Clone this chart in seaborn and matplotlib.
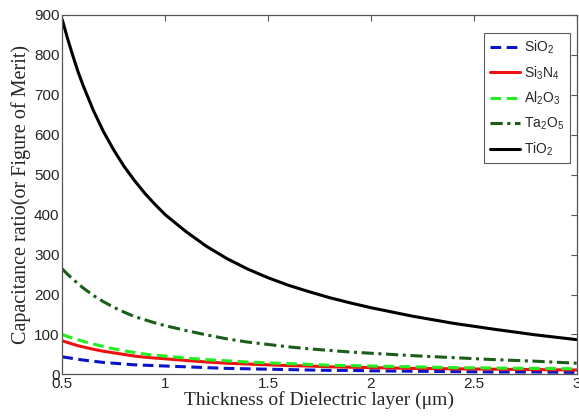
import matplotlib
matplotlib.use('Agg')
import matplotlib.pyplot as plt
import seaborn as sns
import pandas as pd

# 数据点 (厚度 um)
thickness = [0.5, 0.525, 0.55, 0.575, 0.6, 0.65, 0.7, 0.75, 0.8, 0.85, 0.9, 0.95, 1.0,
             1.1, 1.2, 1.3, 1.4, 1.5, 1.6, 1.7, 1.8, 1.9, 2.0,
             2.2, 2.4, 2.6, 2.8, 3.0]
tio2 = [888, 842, 800, 760, 725, 662, 608, 562, 521, 486, 454, 426, 400,
        358, 321, 290, 264, 242, 223, 207, 192, 179, 167,
        146, 128, 113, 99, 87]
ta2o5 = [264, 251, 239, 228, 217, 198, 182, 168, 156, 145, 137, 129, 122,
         110, 99, 89, 81, 75, 69, 64, 60, 56, 53,
         47, 42, 37, 33, 28]
al2o3 = [100, 95, 91, 87, 83, 76, 70, 64, 59, 55, 51, 48, 46,
         41, 37, 34, 31, 29, 27, 25, 23, 22, 21,
         19, 17, 16, 15, 14]
si3n4 = [84, 80, 76, 72, 69, 63, 58, 54, 50, 46, 43, 41, 39,
         35, 31, 28, 26, 24, 22, 21, 19, 18, 17,
         15, 14, 13, 12, 11]
sio2 = [44, 42, 40, 38, 36, 33, 30, 28, 26, 24, 23, 22, 21,
        19, 17, 15, 14, 13, 12, 11, 10, 10, 9,
        8, 7, 6, 6, 5]

labels = [r'SiO$_2$', r'Si$_3$N$_4$', r'Al$_2$O$_3$', r'Ta$_2$O$_5$', r'TiO$_2$']
x_ticks = [0.5, 1, 1.5, 2, 2.5, 3]
x_ticklabels = ['0.5', '1', '1.5', '2', '2.5', '3']
y_ticks = [0, 100, 200, 300, 400, 500, 600, 700, 800, 900]

sns.set_style('white')
plt.rcParams['font.family'] = ['Liberation Sans', 'DejaVu Sans']
plt.rcParams['mathtext.fontset'] = 'custom'
plt.rcParams['mathtext.rm'] = 'Liberation Sans'
plt.rcParams['mathtext.it'] = 'Liberation Sans'
plt.rcParams['mathtext.default'] = 'regular'

series = [sio2, si3n4, al2o3, ta2o5, tio2]
colors = ['#0a14c8', '#ee1111', '#22ee22', '#1a5e1a', '#000000']
styles = [(0, (3.5, 1.8)), '-', (0, (3.5, 1.8)), (0, (4, 1.5, 1, 1.5)), '-']

df = pd.DataFrame({'t': thickness * 5,
                   'v': sum(series, []),
                   'm': [l for l in labels for _ in thickness]})

fig = plt.figure(figsize=(5.79, 4.16), dpi=100)
ax = fig.add_axes([0.1076, 0.100, 0.8884, 0.864])

for lab, c, ls in zip(labels, colors, styles):
    sns.lineplot(data=df[df['m'] == lab], x='t', y='v', ax=ax, color=c,
                 linestyle=ls, linewidth=2.2, label=lab)

ax.set_xlim(0.5, 3)
ax.set_ylim(0, 900)
ax.set_xticks(x_ticks)
ax.set_xticklabels(x_ticklabels)
ax.set_yticks(y_ticks)
ax.tick_params(direction='in', length=4, width=0.8, color='#555555',
               labelsize=11, top=True, right=True, pad=2)
for s in ax.spines.values():
    s.set_color('#555555')
    s.set_linewidth(0.9)
    s.set_visible(True)

ax.set_xlabel('Thickness of Dielectric layer (μm)', family='Liberation Serif',
              fontsize=14, labelpad=0)
ax.set_ylabel('Capacitance ratio(or Figure of Merit)', family='Liberation Serif',
              fontsize=14.5, labelpad=2)

leg = ax.legend(loc='upper right', bbox_to_anchor=(0.987, 0.95), borderaxespad=0,
                fancybox=False, frameon=True, fontsize=10, handlelength=2.2,
                handletextpad=0.3, labelspacing=0.6, borderpad=0.4)
leg.get_frame().set_edgecolor('#333333')
leg.get_frame().set_linewidth(0.8)

fig.savefig('out.png', dpi=100)
